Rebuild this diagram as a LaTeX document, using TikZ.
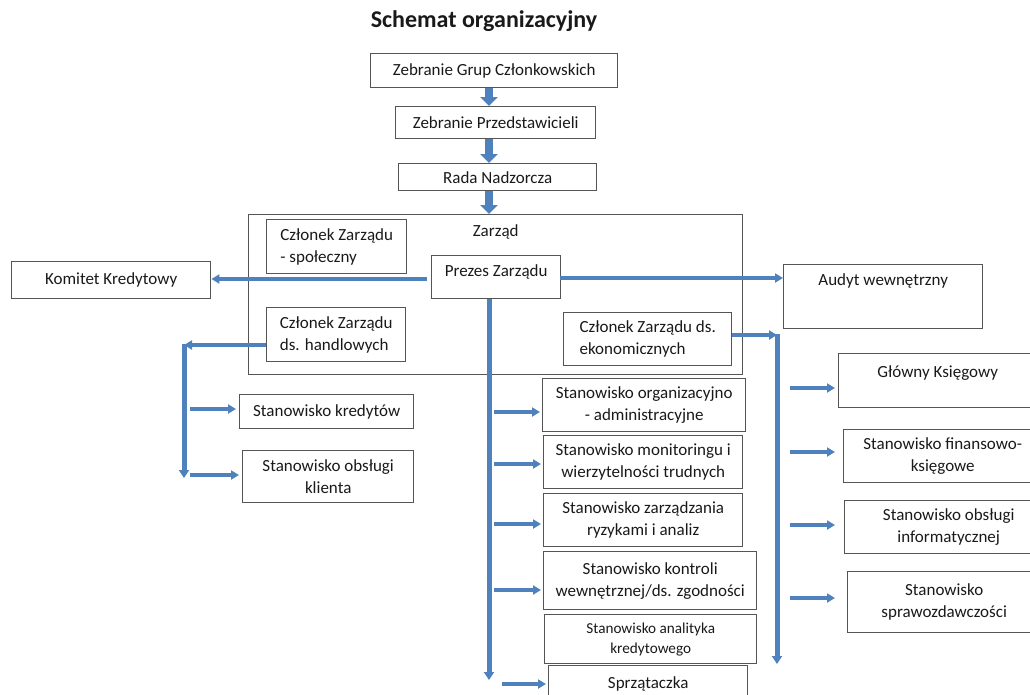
\documentclass[tikz,border=0pt]{standalone}
\usepackage{fontspec}
\setmainfont{Carlito}
\usetikzlibrary{arrows.meta}
\definecolor{cblue}{RGB}{79,129,189}
\definecolor{cgray}{RGB}{85,85,85}
\definecolor{ctext}{RGB}{25,25,25}
\begin{document}
\begin{tikzpicture}[x=1pt,y=-1pt,
  every node/.style={text=ctext},
  box/.style={draw=cgray, line width=1.4pt, inner sep=0pt, anchor=north west,
    font=\fontsize{17}{22}\selectfont, align=center},
  toptext/.style={anchor=center, inner sep=0pt, font=\fontsize{17}{22}\selectfont},
  conn/.style={draw=cblue, line width=4pt, -{Triangle[length=8pt,width=9pt]}},
  vline/.style={draw=cblue, line width=5pt, -{Triangle[length=8pt,width=10pt]}},
  blockarrow/.style={draw=cblue, line width=8pt, -{Triangle[length=9pt,width=17pt]}}
]
\useasboundingbox (0,0) rectangle (1030,694);
\clip (0,0) rectangle (1030,694);

% title
\node[font=\fontsize{24}{28}\bfseries\selectfont, inner sep=0pt] (title) at (484,21) {Schemat organizacyjny};

% top chain
\node[box, minimum width=247pt, minimum height=34pt] (zgc) at (370,53) {Zebranie Grup Członkowskich};
\node[box, minimum width=200pt, minimum height=32pt] (zp) at (395,106) {Zebranie Przedstawicieli};
\node[box, minimum width=198pt, minimum height=27pt] (rn) at (398,163) {Rada Nadzorcza};
\node[box, minimum width=494pt, minimum height=160pt,
  label={[toptext, yshift=-18pt]north:Zarząd}] (zarzad) at (248,214) {};

\draw[blockarrow] (zgc.south -| 489,0) -- (zp.north -| 489,0);
\draw[blockarrow] (zp.south -| 489,0) -- (rn.north -| 489,0);
\draw[blockarrow] (rn.south -| 489,0) -- (zarzad.north -| 489,0);

% board
\node[box, minimum width=140pt, minimum height=54pt, align=left] (spol) at (266,219) {Członek Zarządu\\- społeczny};
\node[box, minimum width=129pt, minimum height=43pt,
  label={[toptext, yshift=-17pt]north:Prezes Zarządu}] (prezes) at (431,255) {};
\node[box, minimum width=139pt, minimum height=54pt, align=left] (handl) at (266,307) {Członek Zarządu\\ds. handlowych};
\node[box, minimum width=168pt, minimum height=53pt, align=left] (ekon) at (563,312) {Członek Zarządu ds.\\ekonomicznych};

\node[box, minimum width=199pt, minimum height=37pt] (komitet) at (11,261) {Komitet Kredytowy};
\node[box, minimum width=199pt, minimum height=64pt,
  label={[toptext, yshift=-17pt]north:Audyt wewnętrzny}] (audyt) at (783,264) {};

\coordinate (pl) at (427,279);
\coordinate (pr) at (560,278);
\draw[conn] (pl) -- (komitet.east |- pl);
\draw[conn] (pr) -- (audyt.west |- pr);

% left branch
\node[box, minimum width=174pt, minimum height=34pt] (kred) at (239,394) {Stanowisko kredytów};
\node[box, minimum width=171pt, minimum height=52pt] (klient) at (242,450) {Stanowisko obsługi\\klienta};
\coordinate (lTop) at (184,345);
\coordinate (lEnd) at (184,478);
\draw[conn] (handl.west |- lTop) -- (lTop);
\draw[vline] ([yshift=1pt]lTop) -- (lEnd);
\coordinate (la1) at (190,409);
\coordinate (la2) at (190,475);
\draw[conn] (la1) -- ([xshift=-3pt]kred.west |- la1);
\draw[conn] (la2) -- ([xshift=-3pt]klient.west |- la2);

% middle branch
\node[box, minimum width=203pt, minimum height=53pt] (org) at (542,378) {Stanowisko organizacyjno\\- administracyjne};
\node[box, minimum width=199pt, minimum height=53pt] (mon) at (543,435) {Stanowisko monitoringu i\\wierzytelności trudnych};
\node[box, minimum width=199pt, minimum height=53pt] (ryz) at (543,493) {Stanowisko zarządzania\\ryzykami i analiz};
\node[box, minimum width=213pt, minimum height=58pt] (kon) at (543,551) {Stanowisko kontroli\\wewnętrznej/ds. zgodności};
\node[box, minimum width=212pt, minimum height=49pt, font=\fontsize{15.2}{20}\selectfont] (anal) at (544,614) {Stanowisko analityka\\kredytowego};
\node[box, minimum width=199pt, minimum height=37pt] (sprz) at (548,665) {Sprzątaczka};
\coordinate (mTop) at (489,298);
\coordinate (mEnd) at (489,680);
\draw[vline] (prezes.south -| mTop) -- (mEnd);
\coordinate (ma1) at (494,412);
\coordinate (ma2) at (494,464);
\coordinate (ma3) at (494,524);
\coordinate (ma4) at (494,590);
\coordinate (ma5) at (502,684);
\draw[conn] (ma1) -- ([xshift=-2pt]org.west |- ma1);
\draw[conn] (ma2) -- ([xshift=-2pt]mon.west |- ma2);
\draw[conn] (ma3) -- ([xshift=-2pt]ryz.west |- ma3);
\draw[conn] (ma4) -- ([xshift=-2pt]kon.west |- ma4);
\draw[conn] (ma5) -- ([xshift=-2pt]sprz.west |- ma5);

% right branch
\node[box, minimum width=198pt, minimum height=54pt,
  label={[toptext, yshift=-20pt]north:Główny Księgowy}] (gk) at (838,353) {};
\node[box, minimum width=198pt, minimum height=53pt] (fin) at (843,429) {Stanowisko finansowo-\\księgowe};
\node[box, minimum width=208pt, minimum height=53pt] (inf) at (844,500) {Stanowisko obsługi\\informatycznej};
\node[box, minimum width=193pt, minimum height=61pt] (spr) at (847,571) {Stanowisko\\sprawozdawczości};
\coordinate (rTop) at (777,335);
\coordinate (rEnd) at (777,664);
\draw[conn] (ekon.east |- rTop) -- (rTop);
\draw[vline] ([yshift=1pt]rTop) -- (rEnd);
\coordinate (ra1) at (790,388);
\coordinate (ra2) at (790,452);
\coordinate (ra3) at (790,525);
\coordinate (ra4) at (790,598);
\draw[conn] (ra1) -- ([xshift=-3pt]gk.west |- ra1);
\draw[conn] (ra2) -- ([xshift=-8pt]fin.west |- ra2);
\draw[conn] (ra3) -- ([xshift=-9pt]inf.west |- ra3);
\draw[conn] (ra4) -- ([xshift=-12pt]spr.west |- ra4);
\end{tikzpicture}
\end{document}
